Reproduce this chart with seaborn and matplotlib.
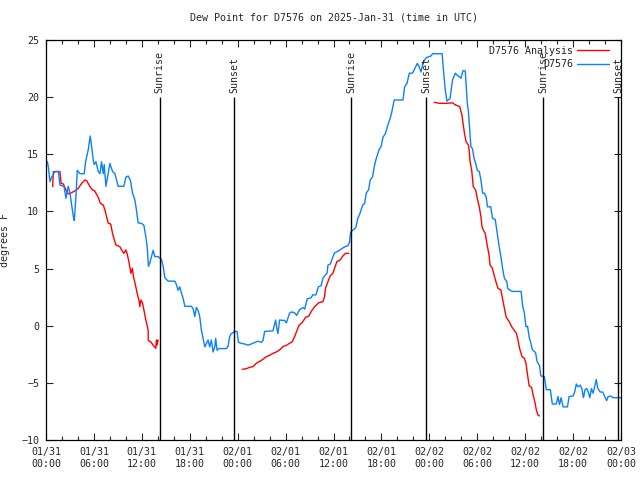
import matplotlib
matplotlib.use("Agg")
import matplotlib.pyplot as plt
import matplotlib.dates as mdates
import seaborn as sns
import pandas as pd

# observed dew point (hours since 2025-01-31 00:00 UTC, deg F)
obs_hours = [0.1, 0.17, 0.29, 0.5, 0.71, 1.13, 1.54, 1.75, 2.25, 2.5, 2.79, 3.0, 3.21, 3.42, 3.54,
             3.75, 3.92, 4.25, 4.79, 4.96, 5.29, 5.54, 5.71, 5.92, 6.04, 6.25, 6.54, 6.75, 6.96,
             7.17, 7.29, 7.5, 7.71, 8.0, 8.33, 8.63, 9.04, 9.75, 10.0, 10.29, 10.58, 10.83, 11.13,
             11.33, 11.54, 11.96, 12.25, 12.5, 12.67, 12.83, 13.0, 13.21, 13.42, 13.63, 14.04,
             14.46, 14.67, 14.88, 15.29, 16.13, 16.33, 16.54, 16.75, 16.96, 17.17, 17.38, 18.2,
             18.42, 18.63, 18.83, 19.04, 19.25, 19.46, 19.67, 19.88, 20.08, 20.29, 20.5, 20.7,
             20.92, 21.13, 21.25, 21.42, 21.63, 22.58, 22.8, 23.0, 23.2, 23.63, 23.92, 24.1,
             24.46, 24.88, 25.3, 25.7, 26.54, 26.96, 27.17, 27.38, 28.42, 28.75, 28.9, 29.04,
             29.25, 29.9, 30.1, 30.5, 30.7, 31.1, 31.4, 31.75, 32.2, 32.4, 32.7, 33.2, 33.4,
             33.8, 34.1, 34.46, 34.67, 35.0, 35.2, 35.3, 35.6, 36.1, 36.5, 36.96, 37.4, 37.8,
             38.0, 38.15, 38.5, 38.8, 39.04, 39.25, 39.67, 39.9, 40.1, 40.4, 40.6, 40.9, 41.1,
             41.3, 41.7, 41.96, 42.2, 42.5, 42.8, 43.1, 43.3, 43.6, 44.7, 44.9, 45.2, 45.5,
             45.9, 46.5, 46.7, 46.96, 47.2, 47.6, 48.2, 48.4, 49.6, 49.8, 50.0, 50.2, 50.6,
             50.9, 51.25, 51.5, 51.75, 51.96, 52.2, 52.5, 52.6, 52.75, 52.9, 53.08, 53.2, 53.4,
             53.6, 53.8, 54.0, 54.25, 54.46, 54.67, 54.9, 55.1, 55.3, 55.7, 55.9, 56.25, 56.5,
             56.75, 56.96, 57.2, 57.4, 57.7, 57.8, 58.0, 58.4, 59.5, 59.67, 59.9, 60.1, 60.3,
             60.5, 60.7, 60.9, 61.3, 61.5, 61.8, 61.96, 62.4, 62.65, 63.15, 63.4, 63.9, 64.1,
             64.3, 64.5, 64.75, 65.3, 65.5, 66.0, 66.2, 66.4, 66.6, 66.9, 67.1, 67.3, 67.5,
             67.7, 67.9, 68.1, 68.3, 68.5, 68.7, 68.9, 69.1, 69.4, 69.7, 70.2, 70.4, 70.7,
             71.0, 72.0]
obs_dewpt = [14.4, 14.35, 13.9, 12.6, 13.0, 13.5, 13.5, 12.3, 12.2, 11.15, 12.2, 11.6, 10.6, 9.55, 9.2,
             11.3, 13.6, 13.3, 13.3, 14.35, 15.4, 16.6, 15.7, 14.5, 14.1, 14.35, 13.5, 13.3, 14.35,
             13.3, 14.1, 12.2, 13.0, 14.2, 13.5, 13.3, 12.2, 12.2, 13.0, 13.1, 12.7, 11.6, 11.0,
             10.1, 9.0, 8.95, 8.8, 7.8, 6.9, 5.2, 5.5, 6.05, 6.6, 6.05, 6.05,
             5.8, 5.2, 4.2, 3.9, 3.9, 3.6, 3.1, 3.4, 2.85, 2.4, 1.7, 1.7,
             1.5, 0.8, 1.6, 1.35, 0.8, -0.4, -1.1, -1.85, -1.55, -1.25, -1.85, -1.25,
             -2.3, -1.85, -1.1, -2.15, -2.0, -2.0, -1.8, -0.95, -0.7, -0.5, -0.5, -1.45,
             -1.55, -1.6, -1.7, -1.6, -1.35, -1.45, -1.3, -0.5, -0.45, 0.5, -0.2, -0.7,
             0.5, 0.45, 0.25, 1.1, 1.2, 1.15, 0.9, 1.4, 1.6, 1.45, 2.35, 2.45, 2.7,
             2.7, 3.4, 3.5, 4.15, 4.45, 4.6, 5.3, 5.4, 6.35, 6.5, 6.7, 6.9, 7.0,
             7.3, 8.2, 8.4, 8.6, 9.4, 9.7, 10.56, 10.7, 11.6, 11.9, 12.75, 13.04, 13.9,
             14.5, 15.4, 15.67, 16.5, 16.8, 17.56, 18.15, 18.7, 19.75, 19.75, 20.9, 21.2, 22.1,
             22.1, 22.96, 22.7, 22.2, 23.0, 23.45, 23.6, 23.8, 23.8, 22.1, 20.6, 19.65, 19.9,
             21.5, 22.1, 21.9, 21.8, 21.65, 22.3, 22.3, 21.2, 19.5, 18.7, 16.8, 15.67, 15.5,
             14.65, 14.2, 13.6, 13.5, 12.75, 11.6, 11.6, 11.3, 10.4, 10.4, 9.4, 9.3, 8.1,
             6.9, 6.05, 4.9, 4.15, 3.85, 3.3, 3.15, 3.0, 3.0, 1.8, 1.1, -0.1, -0.05,
             -1.0, -1.5, -2.1, -2.35, -3.15, -3.5, -4.4, -4.45, -5.6, -5.6, -6.85, -6.85, -6.2,
             -6.9, -6.3, -7.1, -7.1, -6.2, -6.15, -5.8, -5.1, -5.35, -5.2, -5.5, -6.3, -5.6,
             -5.5, -5.8, -6.3, -5.5, -5.9, -5.35, -4.7, -5.5, -5.8, -5.8, -6.55, -6.2, -6.15,
             -6.3, -6.3]

# analysis dew point, three separate runs
ana_hours = [0.83, 0.92, 1.75, 1.88, 2.17, 2.5, 2.79, 3.2, 3.6, 4.04, 4.46, 4.88, 5.08, 5.5, 5.83,
             6.1, 6.54, 6.8, 7.17, 7.38, 7.58, 7.8, 8.1, 8.33, 8.5, 8.75, 9.25, 9.46, 9.75, 10.0,
             10.17, 10.42, 10.63, 10.8, 10.96, 11.2, 11.42, 11.63, 11.75, 11.88, 12.08, 12.3, 12.5,
             12.79, 12.8, 13.1, 13.4, 13.75, 13.83, 13.9, 14.04,
             24.58, 25.08, 25.5, 25.92, 26.33, 26.75, 27.17, 27.58, 28.0, 28.42, 28.83, 29.25,
             29.67, 30.08, 30.5, 30.83, 31.13, 31.42, 31.67, 32.08, 32.5, 32.92, 33.2, 33.63,
             34.17, 34.67, 34.88, 35.0, 35.3, 35.58, 35.92, 36.13, 36.42, 36.83, 37.17, 37.5, 37.92,
             48.6, 49.25, 50.1, 50.9, 51.3, 51.8, 52.08, 52.25, 52.4, 52.6, 52.9, 53.0, 53.1,
             53.3, 53.4, 53.5, 53.8, 54.0, 54.25, 54.46, 54.6, 54.75, 55.0, 55.2, 55.4, 55.5,
             55.6, 55.9, 56.1, 56.4, 56.6, 56.96, 57.2, 57.4, 57.6, 57.8, 58.0, 58.3, 58.6,
             58.9, 59.1, 59.3, 59.6, 59.9, 60.1, 60.3, 60.5, 60.8, 61.0, 61.25, 61.4, 61.6, 61.8]
ana_dewpt = [12.17, 13.48, 13.48, 12.46, 12.4, 11.88, 11.53, 11.64, 11.79, 12.02, 12.46, 12.75, 12.7,
             12.17, 11.88, 11.79, 11.23, 10.71, 10.56, 10.13, 9.54, 8.96, 8.9, 8.08, 7.65, 7.06,
             6.92, 6.63, 6.33, 6.63, 6.28, 5.46, 4.58, 5.02, 4.29, 3.56, 2.83, 2.25, 1.67, 2.25,
             2.02, 1.23, 0.5, -0.37, -1.3, -1.4, -1.69, -1.98, -1.25, -1.69, -1.25,
             -3.82, -3.76, -3.64, -3.58, -3.29, -3.12, -2.94, -2.71, -2.59, -2.42, -2.3, -2.12,
             -1.83, -1.72, -1.54, -1.4, -0.96, -0.43, 0.03, 0.27, 0.73, 0.85, 1.23, 1.67,
             2.02, 2.1, 2.54, 3.27, 3.85, 4.35, 4.58, 5.02, 5.6, 5.75, 6.1, 6.33, 6.33,
             19.55, 19.46, 19.46, 19.5, 19.31, 19.17, 18.44, 17.56, 16.83, 16.1, 15.8, 15.23,
             14.35, 13.63, 12.9, 12.17, 11.88, 11.15, 10.42, 9.54, 8.67, 8.38, 8.08, 7.21, 6.48,
             6.04, 5.31, 5.02, 4.44, 3.71, 3.27, 3.13, 2.25, 1.52, 0.8, 0.56, 0.36, -0.08, -0.37,
             -0.66, -1.25, -1.98, -2.7, -2.85, -3.29, -4.31, -5.27, -5.39, -6.06, -6.79, -7.37,
             -7.81, -7.9]

sun_events = ["Sunrise", "Sunset", "Sunrise", "Sunset", "Sunrise", "Sunset"]
sun_times = ["2025-01-31 14:15", "2025-01-31 23:36", "2025-02-01 14:15",
             "2025-02-01 23:37", "2025-02-02 14:14", "2025-02-02 23:38"]

start = pd.Timestamp("2025-01-31 00:00")
end = pd.Timestamp("2025-02-03 00:00")

obs = pd.DataFrame({"hours": obs_hours, "dewpt": obs_dewpt, "series": "D7576"})
ana = pd.DataFrame({"hours": ana_hours, "dewpt": ana_dewpt, "series": "D7576 Analysis"})
obs["run"] = 0
ana["run"] = (ana["hours"].diff() > 2).cumsum() + 1
df = pd.concat([ana, obs], ignore_index=True)
df["time"] = start + pd.to_timedelta(df["hours"], unit="h")

sns.set_style("ticks")
plt.rcParams["font.family"] = ["DejaVu Sans Mono"]
plt.rcParams["font.size"] = 7.2

fig = plt.figure(figsize=(6.4, 4.8), dpi=100)
ax = fig.add_axes([46 / 640, 40 / 480, 575 / 640, 400 / 480])

sns.lineplot(data=df, x="time", y="dewpt", hue="series", units="run", estimator=None,
             sort=False, palette={"D7576 Analysis": "#ff0000", "D7576": "#0a80ff"},
             linewidth=1.0, ax=ax)

for ev, t in zip(sun_events, sun_times):
    tt = pd.Timestamp(t)
    ax.vlines(tt, -10, 20, color="black", linewidth=1.0)
    ax.text(tt, 20.4, ev, rotation=90, ha="center", va="bottom", fontsize=7.2)

ax.set_xlim(start, end)
ax.set_ylim(-10, 25)
ax.set_yticks(range(-10, 26, 5))
ax.xaxis.set_major_locator(mdates.HourLocator(byhour=[0, 6, 12, 18]))
ax.xaxis.set_minor_locator(mdates.HourLocator(interval=2))
ax.xaxis.set_major_formatter(mdates.DateFormatter("%m/%d\n%H:%M"))
ax.tick_params(which="both", direction="in", top=True, right=True, width=0.8, labelsize=7.2)
ax.tick_params(axis="x", which="major", length=5, pad=5)
ax.tick_params(axis="x", which="minor", length=3)
ax.tick_params(axis="y", length=5, pad=5)
for s in ax.spines.values():
    s.set_linewidth(0.9)
    s.set_color("black")

ax.set_xlabel("")
ax.set_ylabel("degrees F", fontsize=7.2)
ax.yaxis.set_label_coords(-36 / 575, 0.5)
ax.set_title("Dew Point for D7576 on 2025-Jan-31 (time in UTC)", fontsize=7.2, pad=14)

leg = ax.legend(loc="upper right", frameon=False, markerfirst=False, fontsize=7.2,
                handlelength=3.2, handletextpad=0.4, labelspacing=0.35,
                borderaxespad=0.2, bbox_to_anchor=(0.99, 1.0))

fig.savefig("out.png", dpi=100)
